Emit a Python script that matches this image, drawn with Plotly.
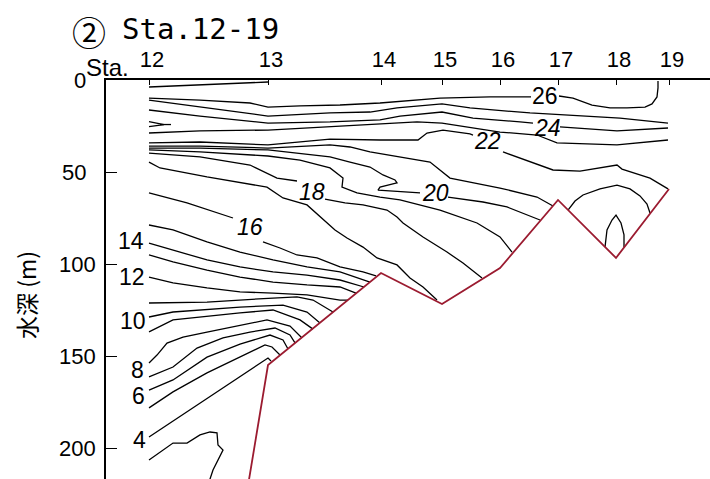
import plotly.graph_objects as go

# Station positions along the section (distance units, station 12 = 0)
station_x = [0, 59.5, 116, 146.5, 175.5, 204.5, 233.5, 260]
station_lbl = ["12", "13", "14", "15", "16", "17", "18", "19"]

depth_ticks = [0, 50, 100, 150, 200]
depth_lbl = ["0", "50", "100", "150", "200"]

# Bottom topography (distance, depth m)
bottom_x = [45, 59.5, 116, 146.5, 175.5, 204.5, 233.5, 260]
bottom_d = [250, 154.9, 104.9, 121.7, 102.2, 65.2, 96.7, 59.2]

# Isotherm traces (distance, depth m)
t27_x = [0, 25.5, 59.5]
t27_d = [3.8, 2.7, 1.1]

t26a_x = [0, 25.5, 50.5, 59.5, 75.5, 95.5, 115.5, 145.5, 170.5, 191]
t26a_d = [9.8, 10.9, 12.5, 14.7, 14.1, 13.6, 12.5, 9.8, 9.2, 9.2]
t26b_x = [205, 212, 221.5, 230.5, 239, 248, 251.5, 254, 254.5, 254.5]
t26b_d = [8.7, 9.8, 13.6, 15.2, 15.2, 14.7, 13.0, 9.2, 4.3, 0.5]

t25_x = [0, 30.5, 59.5, 90.5, 110.5, 124, 146.5, 160.5, 190.5, 235.5, 259.5]
t25_d = [10.9, 15.2, 19.6, 17.9, 17.4, 15.2, 13.0, 15.2, 17.9, 20.7, 23.4]

t24a_x = [0, 25.5, 59.5, 90.5, 115.5, 125.5, 146.5, 162, 185.5, 192]
t24a_d = [16.3, 19.6, 23.4, 22.8, 21.7, 19.6, 17.4, 20.7, 22.8, 23.4]
t24b_x = [205.5, 234, 259.5]
t24b_d = [25.5, 27.7, 26.1]

t23_x = [0, 25.5, 59.5, 90.5, 115.5, 134, 146.5, 175.5, 194, 204, 234, 259.5]
t23_d = [28.8, 27.7, 27.2, 25.5, 23.9, 22.8, 23.4, 28.3, 29.9, 34.2, 35.3, 32.6]

t22a_x = [0, 25.5, 59.5, 90.5, 115.5, 134.5, 139, 147, 160.5, 162]
t22a_d = [34.2, 33.7, 35.3, 32.1, 32.6, 32.6, 28.8, 27.2, 29.3, 29.9]
t22b_x = [177, 190.5, 202, 215.5, 230.5, 234, 236.5, 250.5, 259.5]
t22b_d = [39.1, 44.6, 48.9, 49.5, 46.7, 46.2, 48.4, 53.3, 59.2]

t21_x = [0, 25.5, 59.5, 90.5, 100.5, 110.5, 140.5, 146.5, 150.5, 175.5, 194, 202]
t21_d = [35.9, 35.9, 37.0, 35.3, 36.4, 39.1, 44.6, 50.0, 53.3, 58.7, 63.6, 68.5]

t21c_x = [209.5, 213, 217, 225.5, 234, 240.5, 245.5, 249, 250.5]
t21c_d = [70.7, 65.8, 62.5, 59.2, 57.1, 59.2, 63.0, 67.4, 72.3]

t22c_x = [228, 229, 231.5, 233.5, 236, 237.5, 237.5]
t22c_d = [90.8, 81.5, 76.1, 73.4, 77.7, 84.2, 90.8]

t20a_x = [0, 25.5, 59.5, 90.5, 100.5, 110.5, 117, 123, 124, 115.5, 114.5, 120.5, 135.5]
t20a_d = [37.0, 37.0, 38.0, 41.8, 44.6, 47.3, 51.6, 54.3, 55.9, 58.2, 59.8, 60.3, 61.4]
t20b_x = [149.5, 167, 179, 195.5]
t20b_d = [63.6, 66.3, 69.0, 76.1]

t19_x = [0, 25.5, 59.5, 75.5, 90.5, 97, 96.5, 104, 115.5, 125.5, 145.5, 164, 175.5, 178, 181.5]
t19_d = [38.0, 39.1, 41.3, 43.5, 47.8, 53.3, 58.2, 61.4, 63.6, 65.2, 70.7, 77.7, 85.3, 88.6, 93.5]

t18a_x = [0, 25.5, 50.5, 64, 74]
t18a_d = [39.7, 41.8, 46.2, 53.3, 54.9]
t18b_x = [88, 98, 107, 119, 124, 127, 137, 149, 157, 166.5]
t18b_d = [64.7, 66.8, 67.9, 70.7, 74.5, 77.7, 85.3, 93.5, 99.5, 107.6]

t17_x = [0, 5.5, 29, 59, 67, 79, 93, 99, 107, 114, 124, 130.5, 137, 144]
t17_d = [44.6, 47.8, 52.7, 58.2, 64.1, 67.9, 81.5, 85.9, 90.8, 96.7, 100.5, 107.6, 112.5, 119.6]

t16a_x = [0, 19, 42]
t16a_d = [61.4, 66.8, 75.0]
t16b_x = [57, 65.5, 74, 84, 95.5, 107, 113.5]
t16b_d = [88.0, 91.3, 95.1, 96.7, 101.6, 104.3, 106.5]

t15_x = [0, 12, 29, 45.5, 62, 79, 95.5, 110.5]
t15_d = [78.8, 81.5, 88.0, 93.5, 97.8, 101.6, 104.3, 109.8]

t14_x = [0, 12, 29, 45.5, 62, 79, 95.5, 107.5]
t14_d = [88.6, 92.4, 97.8, 101.6, 104.3, 106.0, 108.7, 112.5]

t13_x = [0, 12, 29, 45.5, 62, 79, 95.5, 103.5]
t13_d = [95.1, 98.9, 103.3, 107.1, 109.8, 111.4, 112.5, 115.8]

t12_x = [0, 12, 29, 45.5, 62, 79, 95.5, 99.5]
t12_d = [107.1, 110.3, 113.0, 115.2, 115.8, 116.8, 119.6, 119.6]

t11_x = [0, 29, 62, 74, 82, 92]
t11_d = [121.2, 120.7, 118.5, 117.9, 119.6, 126.1]

t10_x = [0, 12, 45.5, 67, 79, 85.5]
t10_d = [128.8, 126.1, 123.4, 122.3, 126.1, 132.1]

t9_x = [0, 12, 45.5, 62, 75.5, 82]
t9_d = [136.9, 130.4, 126.6, 125.0, 130.4, 135.4]

t8_x = [0, 4, 9, 17, 29, 45.5, 59, 70.5, 76.5]
t8_d = [153.8, 149.5, 143.0, 139.7, 137.0, 133.2, 130.4, 133.7, 140.2]

t7_x = [0, 12, 24, 37, 50.5, 63, 70.5, 73]
t7_d = [161.4, 156.0, 145.7, 140.2, 137.0, 134.8, 138.6, 142.9]

t6_x = [0, 12, 29, 45.5, 60.5, 67, 69.5]
t6_d = [168.5, 163.0, 150.6, 143.5, 138.6, 141.3, 146.2]

t5_x = [0, 12, 29, 45.5, 58, 61.5, 65.5]
t5_d = [178.2, 169.5, 159.2, 150.6, 144.0, 145.1, 149.5]

t4_x = [0, 25.5, 45.5, 59.5, 61]
t4_d = [194.0, 175.5, 161.4, 151.1, 152.7]

t3_x = [0, 12, 19, 25.5, 30.5, 34, 34.5, 37, 32, 29.5]
t3_d = [206.5, 197.3, 197.3, 192.9, 191.3, 191.8, 198.4, 201.1, 212.0, 220.1]

wedge_a_x = [0, 7.5, 0]
wedge_a_d = [22.6, 24.2, 25.3]
wedge_b_x = [5.5, 11]
wedge_b_d = [24.2, 24.2]

# Contour labels
lab_text = ["26", "24", "22", "20", "18", "16", "14", "12", "10", "8", "6", "4"]
lab_x = [198, 199, 169, 143, 81.5, 50.5, -9, -8.5, -8, -6, -5.5, -5]
lab_d = [8.7, 26.1, 33.2, 61.4, 60.9, 79.9, 87.5, 107.1, 131.0, 157.6, 171.8, 195.7]
lab_italic = [False, True, True, True, True, True, False, False, False, False, False, False]

lines = [
    (t27_x, t27_d), (t26a_x, t26a_d), (t26b_x, t26b_d), (t25_x, t25_d),
    (t24a_x, t24a_d), (t24b_x, t24b_d), (t23_x, t23_d), (t22a_x, t22a_d),
    (t22b_x, t22b_d), (t21_x, t21_d), (t21c_x, t21c_d), (t22c_x, t22c_d),
    (t20a_x, t20a_d), (t20b_x, t20b_d), (t19_x, t19_d), (t18a_x, t18a_d),
    (t18b_x, t18b_d), (t17_x, t17_d), (t16a_x, t16a_d), (t16b_x, t16b_d),
    (t15_x, t15_d), (t14_x, t14_d), (t13_x, t13_d), (t12_x, t12_d),
    (t11_x, t11_d), (t10_x, t10_d), (t9_x, t9_d), (t8_x, t8_d), (t7_x, t7_d),
    (t6_x, t6_d), (t5_x, t5_d), (t4_x, t4_d), (t3_x, t3_d),
    (wedge_a_x, wedge_a_d), (wedge_b_x, wedge_b_d),
]

fig = go.Figure()
for lx, ld in lines:
    fig.add_trace(go.Scatter(x=lx, y=ld, mode="lines",
                             line=dict(color="black", width=1.3),
                             hoverinfo="skip", showlegend=False))

fig.add_trace(go.Scatter(x=bottom_x, y=bottom_d, mode="lines",
                         line=dict(color="#9B1B30", width=1.8),
                         hoverinfo="skip", showlegend=False))

FONT = "Liberation Sans, Arial, sans-serif"
annotations = []
for t, x, d, it in zip(lab_text, lab_x, lab_d, lab_italic):
    annotations.append(dict(
        x=x, y=d, xref="x", yref="y", text=("<i>%s</i>" % t) if it else t,
        showarrow=False, font=dict(family=FONT, size=23, color="black"),
        xanchor="center", yanchor="middle"))

W, H = 710, 479
L, R, T, B = 106, 0, 80, 0
pw, ph = W - L - R, H - T - B


def px2paper(px, py):
    return (px - L) / pw, (H - B - py) / ph


# depth tick labels (drawn as text beside the axis)
for v, s in zip(depth_ticks, depth_lbl):
    rx = 88 if v < 100 else 98
    annotations.append(dict(x=(rx - L) / pw, y=v, xref="paper", yref="y",
                            text=s, showarrow=False,
                            font=dict(family=FONT, size=22, color="black"),
                            xanchor="right", yanchor="middle"))

cx, cy = px2paper(89, 31)
annotations.append(dict(x=cx, y=cy, xref="paper", yref="paper",
                        text="②", showarrow=False,
                        font=dict(family="Noto Sans CJK JP", size=34, color="black"),
                        xanchor="center", yanchor="middle"))
tx, ty = px2paper(120, 29)
annotations.append(dict(x=tx, y=ty, xref="paper", yref="paper",
                        text="Sta.12-19", showarrow=False,
                        font=dict(family="DejaVu Sans Mono", size=29, color="black"),
                        xanchor="left", yanchor="middle"))
sx, sy = px2paper(131, 67)
annotations.append(dict(x=sx, y=sy, xref="paper", yref="paper",
                        text="Sta.", showarrow=False,
                        font=dict(family=FONT, size=24, color="black"),
                        xanchor="right", yanchor="middle"))
yx, yy = px2paper(26, 295)
annotations.append(dict(x=yx, y=yy, xref="paper", yref="paper",
                        text="水深 (m)", showarrow=False, textangle=-90,
                        font=dict(family="Noto Sans CJK JP, " + FONT, size=23, color="black"),
                        xanchor="center", yanchor="middle"))

fig.update_layout(
    width=W, height=H,
    margin=dict(l=L, r=R, t=T, b=B, pad=0),
    paper_bgcolor="white", plot_bgcolor="white",
    annotations=annotations,
    xaxis=dict(range=[-21.5, 280.5], side="top", showline=True,
               linecolor="black", linewidth=1.5, ticks="inside", ticklen=5,
               tickwidth=1, tickcolor="black",
               tickvals=station_x, ticktext=["\u00a0" + s for s in station_lbl],
               showgrid=False, zeroline=False, ticklabelstandoff=2,
               tickfont=dict(family=FONT, size=22, color="black")),
    yaxis=dict(range=[216.85, 0], showline=True, linecolor="black",
               linewidth=1.5, ticks="inside", ticklen=11, tickwidth=1,
               tickcolor="black", tickvals=depth_ticks, showticklabels=False,
               showgrid=False, zeroline=False),
)

fig.write_html("out.html", config={"displayModeBar": False},
               post_script="document.body.style.margin='0';document.body.style.overflow='hidden';")
